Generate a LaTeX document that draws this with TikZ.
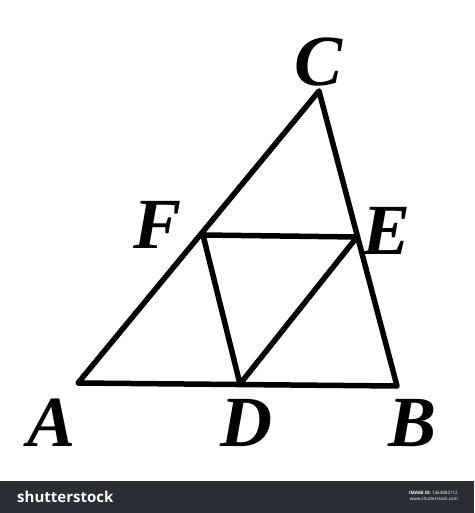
\documentclass[tikz,border=0pt]{standalone}
\usepackage{fontspec}
\setmainfont{Liberation Serif}
\setsansfont{Open Sans}
\definecolor{barcol}{HTML}{2A2D33}
\begin{document}
\begin{tikzpicture}[x=1pt,y=-1pt,
  edge/.style={line width=5.5pt,line cap=round,line join=round},
  lbl/.style={font=\fontsize{72}{72}\selectfont\bfseries\itshape,inner sep=0pt}]
\useasboundingbox (0,0) rectangle (474,513);
\fill[white] (0,0) rectangle (474,513);
% points
\coordinate (A) at (78,383);
\coordinate (B) at (397,386);
\coordinate (C) at (319,91);
\coordinate (D) at (240,384);
\coordinate (E) at (357,237);
\coordinate (F) at (203,235);
\draw[edge] (A) -- (B) -- (C) -- cycle;
\draw[edge] (F) -- (E) -- (D) -- cycle;
% labels
\node[lbl] (lC) at (319,62) {C};
\node[lbl] (lF) at (158,225) {F};
\node[lbl] (lE) at (387,231) {E};
\node[lbl] (lA) at (52,423) {A};
\node[lbl] (lD) at (246,423) {D};
\node[lbl] (lB) at (413,423) {B};
% bottom bar
\fill[barcol] (0,481) rectangle (474,513);
\node[anchor=west,text=white,font=\sffamily\bfseries\fontsize{15}{15}\selectfont,inner sep=0pt] (logo) at (17,497) {shutterstock};
\node[anchor=east,text=white,font=\sffamily\fontsize{4.5}{5.5}\selectfont,inner sep=0pt,align=right] (iid) at (458,496) {\textbf{IMAGE ID:} 1363885112\\www.shutterstock.com};
\end{tikzpicture}
\end{document}
